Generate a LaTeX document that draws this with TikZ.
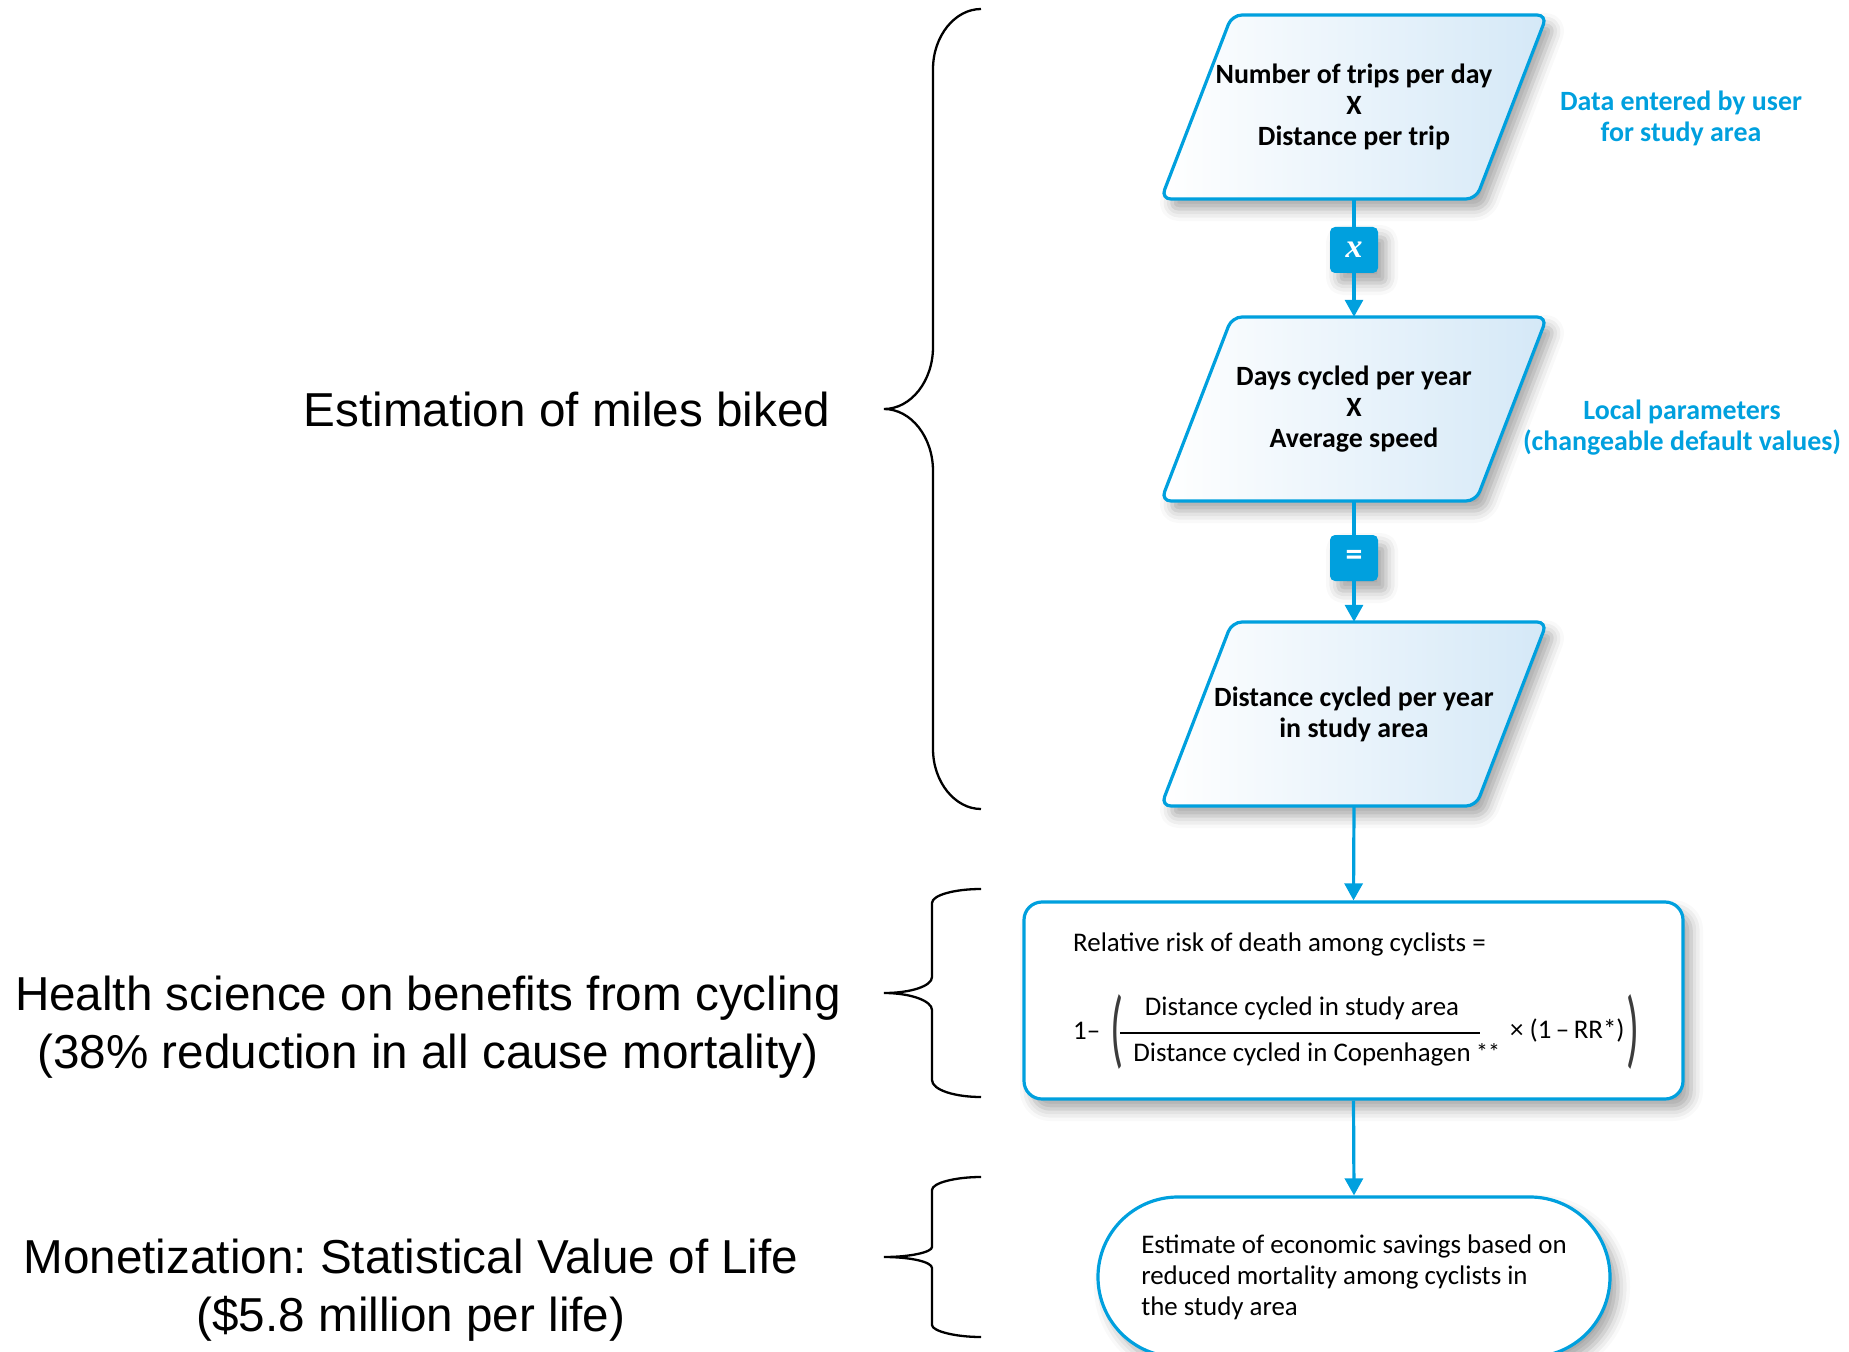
\documentclass[tikz,border=0pt]{standalone}
\usepackage{fontspec}
\usepackage{graphicx}
\setmainfont{Carlito}
\newfontfamily\headfont{Liberation Sans}
\newfontfamily\opfont{Liberation Serif}
\usetikzlibrary{arrows.meta,shadows.blur}
\frenchspacing

\definecolor{flowblue}{RGB}{0,160,222}
\definecolor{boxtint}{RGB}{212,232,247}
\definecolor{parengray}{RGB}{60,60,60}

\newcommand\boxfont{\fontsize{28}{31}\selectfont\bfseries}
\newcommand\formfont{\fontsize{27}{31}\selectfont}
\newcommand\bigfont{\headfont\fontsize{47.8}{58}\selectfont}
% tall thin parenthesis built from the text glyph
\newcommand\tallparen[1]{\scalebox{1.6}[3.2]{#1}}

\tikzset{
  dropshade/.style={blur shadow={shadow xshift=8bp, shadow yshift=-10bp,
      shadow blur radius=12bp, shadow opacity=35}},
  slantnode/.style={rectangle, minimum width=386bp, minimum height=184bp,
      align=center, font=\boxfont, inner sep=0pt},
  slantshape/.style={draw=flowblue, line width=3.2bp, rounded corners=10bp,
      left color=white, right color=boxtint, dropshade},
  opbox/.style={fill=flowblue, rounded corners=5bp, minimum width=48bp,
      minimum height=46bp, dropshade, text=white, inner sep=0pt},
  riskbox/.style={rectangle, draw=flowblue, line width=3.2bp, fill=white,
      rounded corners=18bp, minimum width=659bp, minimum height=197bp, dropshade},
  savebox/.style={rectangle, draw=flowblue, line width=3.2bp, fill=white,
      rounded corners=80bp, minimum width=512bp, minimum height=160bp, dropshade,
      align=left, font=\formfont, inner sep=0pt},
  formtext/.style={font=\formfont, inner sep=0pt},
  sidenote/.style={font=\boxfont, text=flowblue, align=center, inner sep=0pt},
  heading/.style={font=\bigfont, align=center, inner sep=0pt},
  flow/.style={draw=flowblue, line width=3.2bp},
  flowarrow/.style={flow, -{Triangle[width=18bp,length=17bp]}},
  bracepath/.style={draw=black, line width=2.3bp},
}

% slanted input box centred on (#1,#2); its text node is placed on top
\newcommand\slantframe[2]{%
  \path[slantshape] ({#1-122},{#2-92}) -- ({#1+193},{#2-92})
    -- ({#1+122},{#2+92}) -- ({#1-193},{#2+92}) -- cycle;}

\begin{document}
\begin{tikzpicture}[x=1bp,y=-1bp]
\useasboundingbox (0,0) rectangle (1849,1352);
\clip (0,0) rectangle (1849,1352);

% flowchart column
\slantframe{1354}{107}
\node[slantnode] (trips) at (1354,107) {Number of trips per day\\X\\Distance per trip};
\node[opbox] (times) at (1354,250) {\opfont\fontsize{34}{34}\selectfont\bfseries\itshape x};
\slantframe{1354}{409}
\node[slantnode] (days) at (1354,409) {Days cycled per year\\X\\Average speed};
\node[opbox] (equals) at (1354,558) {\fontsize{34}{34}\selectfont\bfseries =};
\slantframe{1354}{714}
\node[slantnode] (dist) at (1354,714) {Distance cycled per year\\in study area};
\node[riskbox] (risk) at (1353.5,1000.5) {};
\node[savebox] (savings) at (1354,1277)
  {Estimate of economic savings based on\\reduced mortality among cyclists in\\the study area};

% connectors
\draw[flow] (trips.south) -- (times.north);
\draw[flowarrow] (times.south) -- (days.north);
\draw[flow] (days.south) -- (equals.north);
\draw[flowarrow] (equals.south) -- (dist.north);
\draw[flowarrow] (dist.south) -- (risk.north);
\draw[flowarrow] (risk.south) -- (savings.north);

% relative risk formula
\node[formtext, anchor=west] (rrlabel) at (1073,944) {Relative risk of death among cyclists =};
\node[formtext, anchor=west] (one) at (1073,1031) {1–};
\node[formtext, text=parengray] (lparen) at (1117,1032) {\tallparen{(}};
\node[formtext] (num) at (1302,1008) {Distance cycled in study area};
\draw[line width=2.4bp] (1120,1033) -- (1480,1033);
\node[formtext] (den) at (1302,1054) {Distance cycled in Copenhagen};
\node[formtext, font=\fontsize{24}{24}\selectfont] (stars) at (1488,1052) {**};
\node[formtext, anchor=west] (factor) at (1510,1031) {× (1\,–\,RR*)};
\node[formtext, text=parengray] (rparen) at (1633,1032) {\tallparen{)}};

% side notes
\node[sidenote] (userdata) at (1681,118) {Data entered by user\\for study area};
\node[sidenote] (localpar) at (1682,428) {Local parameters\\(changeable default values)};

% braces
\draw[bracepath] (981,9) .. controls (955,9) and (933,36) .. (933,69)
  -- (933,347) .. controls (933,381) and (911,409) .. (884,409)
  .. controls (911,409) and (933,437) .. (933,471)
  -- (933,749) .. controls (933,782) and (955,809) .. (981,809);
\draw[bracepath] (981,889) .. controls (955,889) and (932,895) .. (932,903)
  -- (932,977) .. controls (932,986) and (911,993) .. (884,993)
  .. controls (911,993) and (932,1001) .. (932,1010)
  -- (932,1080) .. controls (932,1090) and (955,1097) .. (981,1097);
\draw[bracepath] (981,1177) .. controls (955,1177) and (932,1183) .. (932,1190)
  -- (932,1247) .. controls (932,1252) and (911,1257) .. (884,1257)
  .. controls (911,1257) and (932,1262) .. (932,1268)
  -- (932,1325) .. controls (932,1331) and (955,1337) .. (981,1337);

% headings
\node[heading] (miles) at (567,409) {Estimation of miles biked};
\node[heading] (health) at (428,1027) {Health science on benefits from cycling\\(38\% reduction in all cause mortality)};
\node[heading] (money) at (411,1290) {Monetization: Statistical Value of Life\\(\$5.8 million per life)};
\end{tikzpicture}
\end{document}
